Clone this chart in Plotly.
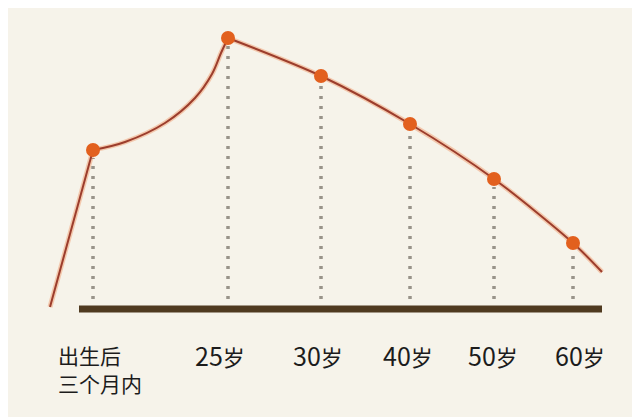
import plotly.graph_objects as go

# positions along the bar (px-like units) and heights above the baseline
ages = ["25", "30", "40", "50", "60"]
first_label = ["出生后", "三个月内"]
dot_x = [93, 228, 321, 410, 494, 573]
dot_h = [159, 271, 233, 185, 130, 66]

# curve pieces
start_x = [50, 93]
start_h = [2, 159]
rise_x = [93, 125, 165, 195, 212, 221, 228]
rise_h = [159, 167, 186, 211, 235, 256, 271]
fall_x = [228, 321, 410, 494, 573, 602]
fall_h = [271, 233, 185, 130, 66, 37]

label_x = [57, 220, 318, 408, 493, 580]
bar_x = [79, 602]

BG = "#f6f3ea"
LINE = "#9c3d2c"
GLOW = "rgba(238,120,60,0.35)"
DOT = "#e2601e"
TXT = "#1c1c1c"

fig = go.Figure()

# dotted drop lines
for x, h in zip(dot_x, dot_h):
    fig.add_trace(go.Scatter(x=[x, x], y=[0, h - 8], mode="lines",
                             line=dict(color="#989389", width=3.5, dash="3px,7px"),
                             hoverinfo="skip", showlegend=False))

# baseline bar
fig.add_trace(go.Scatter(x=bar_x, y=[0, 0], mode="lines",
                         line=dict(color="#4f3a20", width=7),
                         hoverinfo="skip", showlegend=False))

# curve: glow underneath then the thin line
for w, c in [(5, GLOW), (2, LINE)]:
    fig.add_trace(go.Scatter(x=start_x, y=start_h, mode="lines",
                             line=dict(color=c, width=w), showlegend=False))
    fig.add_trace(go.Scatter(x=rise_x, y=rise_h, mode="lines",
                             line=dict(color=c, width=w, shape="spline", smoothing=1.0),
                             showlegend=False))
    fig.add_trace(go.Scatter(x=fall_x, y=fall_h, mode="lines",
                             line=dict(color=c, width=w, shape="spline", smoothing=0.8),
                             showlegend=False))

fig.add_trace(go.Scatter(x=dot_x, y=dot_h, mode="markers",
                         marker=dict(color=DOT, size=14, line=dict(width=0)),
                         showlegend=False))

# first label, two lines, left aligned
for txt, yy in zip(first_label, [-46, -74]):
    fig.add_annotation(x=label_x[0], y=yy, text=txt, showarrow=False,
                       xanchor="left", yanchor="middle", borderpad=0,
                       font=dict(family="Noto Sans CJK SC", size=21, color=TXT))

for lx, a in zip(label_x[1:], ages):
    fig.add_annotation(x=lx, y=-46, text=f"<span style='font-size:25px'>{a}</span>岁",
                       showarrow=False, xanchor="center", yanchor="middle",
                       font=dict(family="Noto Sans CJK SC", size=22, color=TXT))

# the page has an 8px body margin, so the ranges are offset by 8
fig.update_layout(
    width=640, height=417,
    margin=dict(l=0, r=0, t=0, b=0),
    paper_bgcolor=BG, plot_bgcolor=BG,
    xaxis=dict(range=[8, 648], visible=False, fixedrange=True),
    yaxis=dict(range=[-116, 301], visible=False, fixedrange=True),
)

fig.write_html("out.html")
